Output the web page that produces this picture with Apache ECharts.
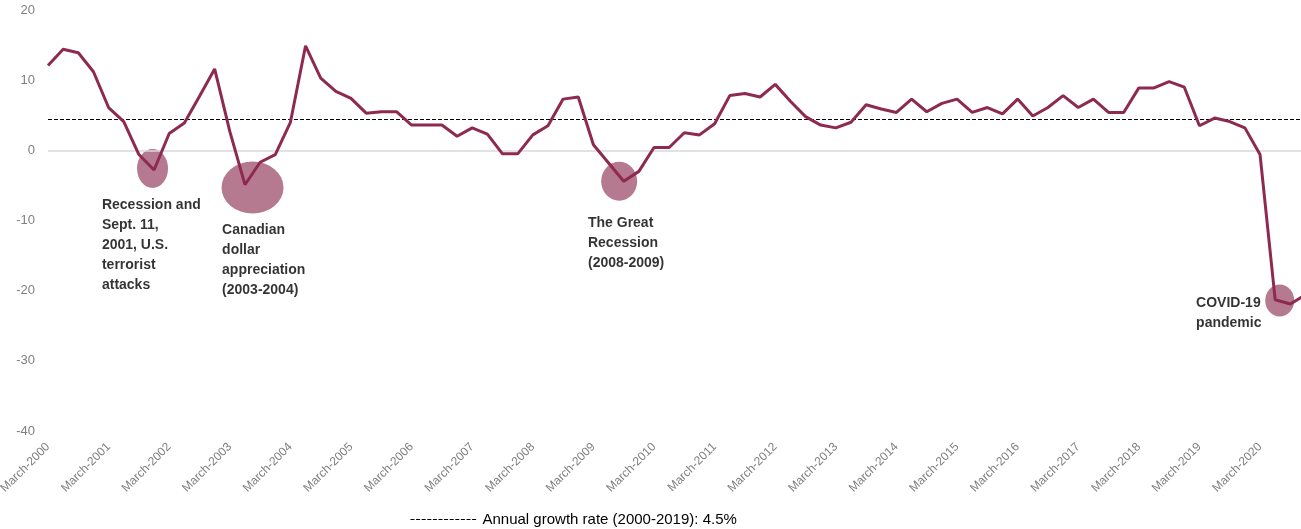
<!DOCTYPE html>
<html>
<head>
<meta charset="utf-8">
<script src="https://cdn.jsdelivr.net/npm/echarts@6/dist/echarts.min.js"></script>
<style>html,body{margin:0;padding:0;background:#fff}#c{width:1301px;height:529px}</style>
</head>
<body>
<div id="c"></div>
<script>
// ---- data ----
const months = ["March", "June", "September", "December"];
const startYear = 2000;
const endYear = 2020;
const values = [
  12.1, 14.4, 13.9, 11.2, 6.1, 4.1, -0.6, -2.8,
  2.4, 3.9, 7.7, 11.6, 2.7, -4.9, -1.7, -0.6,
  4.0, 14.9, 10.3, 8.4, 7.4, 5.3, 5.5, 5.5,
  3.6, 3.6, 3.6, 2.0, 3.2, 2.3, -0.5, -0.5,
  2.2, 3.5, 7.3, 7.6, 0.8, -1.8, -4.4, -3.0,
  0.4, 0.4, 2.5, 2.2, 3.8, 7.8, 8.1, 7.6,
  9.4, 7.0, 4.8, 3.6, 3.2, 4.0, 6.5, 5.9,
  5.4, 7.3, 5.5, 6.7, 7.3, 5.4, 6.1, 5.2,
  7.3, 4.9, 6.1, 7.8, 6.1, 7.3, 5.4, 5.4,
  8.9, 8.9, 9.8, 9.0, 3.5, 4.6, 4.1, 3.2,
  -0.6, -21.3, -21.9, -20.6
];
const averageRate = 4.5;
const averageLabel = "Annual growth rate (2000-2019): 4.5%";
const yTicks = { min: -40, max: 20, interval: 10 };
const annotationTexts = [
  "Recession and\nSept. 11,\n2001, U.S.\nterrorist\nattacks",
  "Canadian\ndollar\nappreciation\n(2003-2004)",
  "The Great\nRecession\n(2008-2009)",
  "COVID-19\npandemic"
];
// highlighted episodes: [quarter index (fractional), value]
const highlightPoints = [[6.9, -2.6], [13.5, -5.3], [37.7, -4.4], [81.3, -21.4]];
// text anchors: [quarter index, value] (top-left of text)
const textAnchors = [[3.56, -6.34], [11.49, -9.9], [35.64, -8.9], [75.78, -20.3]];

// ---- build ----
const categories = [];
for (let y = startYear; y <= endYear; y++) for (const m of months) categories.push(m + "-" + y);

const ellipseSizes = [[31, 39], [62, 52], [36, 39], [29, 32]];
const lineColor = "#8e2a50";

const chart = echarts.init(document.getElementById("c"));
chart.setOption({
  animation: false,
  textStyle: { fontFamily: "Liberation Sans" },
  grid: { left: 48, right: -4.5, top: 10, bottom: 98, containLabel: false, outerBoundsMode: "none" },
  legend: {
    data: [averageLabel],
    left: 405, top: 507,
    itemWidth: 67, itemHeight: 10, itemGap: 9,
    itemStyle: { opacity: 0 },
    lineStyle: { color: "#000", width: 1, type: [4, 1.6] },
    textStyle: { fontSize: 15, color: "#000", fontFamily: "Liberation Sans" },
    selectedMode: false
  },
  xAxis: [{
    type: "category",
    data: categories,
    boundaryGap: false,
    axisLine: { show: false },
    axisTick: { show: false },
    splitLine: { show: false },
    axisLabel: { interval: 3, rotate: 45, color: "#7f7f7f", fontSize: 12, margin: 14 }
  }, {
    type: "value", min: 0, max: categories.length - 1, show: false
  }],
  yAxis: {
    type: "value",
    min: yTicks.min, max: yTicks.max, interval: yTicks.interval,
    axisLine: { show: false }, axisTick: { show: false },
    splitLine: { show: false },
    axisLabel: { color: "#7f7f7f", fontSize: 13, margin: 13 }
  },
  series: [
    {
      type: "scatter",
      xAxisIndex: 1,
      z: 1,
      silent: true,
      data: highlightPoints.map((p, i) => ({ value: p, symbolSize: ellipseSizes[i] })),
      symbol: "circle",
      itemStyle: { color: "#b57a90", opacity: 1 }
    },
    {
      name: averageLabel,
      type: "line",
      data: [],
      symbol: "none",
      showSymbol: false,
      z: 3,
      lineStyle: { color: "#000", width: 1, type: [4, 2] },
      itemStyle: { color: "#000" },
      markLine: {
        silent: true, symbol: "none", label: { show: false },
        data: [
          { yAxis: 0, lineStyle: { color: "#d9d9d9", width: 1.5, type: "solid" } },
          { yAxis: averageRate, lineStyle: { color: "#000", width: 1, type: [4, 2] } }
        ]
      }
    },
    {
      name: "growth",
      type: "line",
      data: values,
      symbol: "none",
      z: 5,
      lineStyle: { color: lineColor, width: 3 }
    },
    {
      type: "scatter",
      xAxisIndex: 1,
      z: 6,
      silent: true,
      symbolSize: 0,
      data: textAnchors.map((p, i) => ({ value: p, name: annotationTexts[i] })),
      label: {
        show: true,
        position: [0, 0],
        align: "left",
        verticalAlign: "top",
        formatter: p => p.name,
        fontSize: 14,
        fontWeight: "bold",
        lineHeight: 20,
        color: "#000",
        fontFamily: "Liberation Sans"
      }
    }
  ]
});
</script>
</body>
</html>
